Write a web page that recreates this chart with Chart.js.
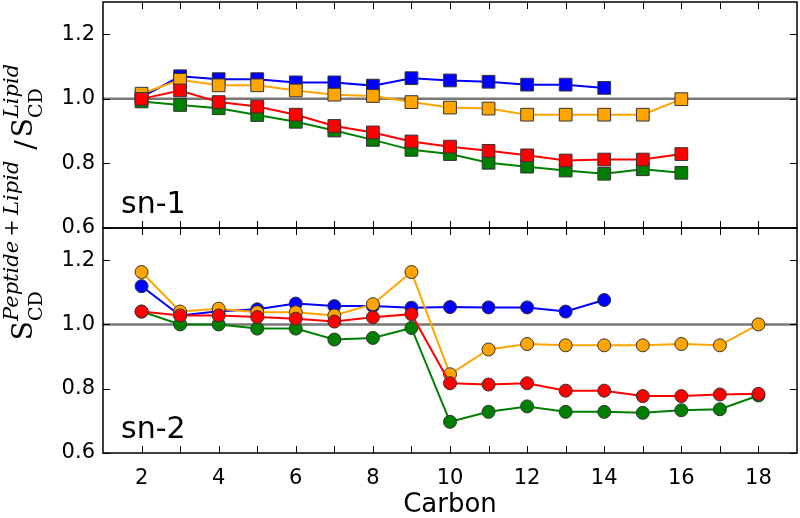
<!DOCTYPE html>
<html>
<head>
<meta charset="utf-8">
<script src="https://cdn.jsdelivr.net/npm/chart.js@4.4.0/dist/chart.umd.min.js"></script>
<style>
  body { margin: 0; background: #fff; }
  #wrap { position: relative; width: 800px; height: 518px; }
  #wrap canvas { position: absolute; left: 0; top: 0; }
</style>
</head>
<body>
<div id="wrap">
  <canvas id="sn1" width="800" height="518"></canvas>
  <canvas id="sn2" width="800" height="518"></canvas>
</div>
<script>
// carbon positions
let carbonSn1 = [2, 3, 4, 5, 6, 7, 8, 9, 10, 11, 12, 13, 14, 15, 16];
let carbonSn2 = [2, 3, 4, 5, 6, 7, 8, 9, 10, 11, 12, 13, 14, 15, 16, 17, 18];

// sn-1 chain (squares)
let blueSn1   = [1.005, 1.07, 1.061, 1.061, 1.051, 1.051, 1.041, 1.064, 1.057, 1.053, 1.044, 1.044, 1.034];
let orangeSn1 = [1.016, 1.059, 1.042, 1.042, 1.026, 1.013, 1.009, 0.99, 0.973, 0.97, 0.951, 0.951, 0.951, 0.951, 0.999];
let redSn1    = [1.0, 1.026, 0.99, 0.976, 0.951, 0.916, 0.896, 0.868, 0.852, 0.839, 0.825, 0.809, 0.812, 0.812, 0.829];
let greenSn1  = [0.992, 0.981, 0.971, 0.95, 0.929, 0.902, 0.873, 0.842, 0.829, 0.802, 0.79, 0.778, 0.768, 0.782, 0.771];

// sn-2 chain (circles)
let blueSn2   = [1.119, 1.028, 1.041, 1.047, 1.065, 1.057, 1.057, 1.052, 1.054, 1.053, 1.053, 1.04, 1.076];
let orangeSn2 = [1.163, 1.04, 1.049, 1.038, 1.038, 1.028, 1.063, 1.163, 0.845, 0.922, 0.939, 0.935, 0.935, 0.935, 0.939, 0.935, 1.0];
let redSn2    = [1.04, 1.028, 1.028, 1.023, 1.018, 1.009, 1.022, 1.032, 0.817, 0.813, 0.817, 0.794, 0.794, 0.777, 0.777, 0.782, 0.784];
let greenSn2  = [1.04, 1.0, 1.0, 0.987, 0.987, 0.953, 0.958, 0.989, 0.697, 0.728, 0.745, 0.728, 0.728, 0.725, 0.733, 0.736, 0.779];

let yTicks = [0.6, 0.8, 1.0, 1.2];
let xTickLabels = [2, 4, 6, 8, 10, 12, 14, 16, 18];
let xTickMarks = [2, 3, 4, 5, 6, 7, 8, 9, 10, 11, 12, 13, 14, 15, 16, 17, 18];

let font = 'DejaVu Sans';

function pts(xs, ys) {
  return ys.map((v, i) => ({x: xs[i], y: v}));
}

function makeSet(xs, ys, color, style, r) {
  return {
    data: pts(xs, ys),
    borderColor: color,
    backgroundColor: color,
    borderWidth: 2,
    pointStyle: style,
    pointRadius: r,
    pointHoverRadius: r,
    pointBorderColor: '#333',
    pointBorderWidth: 1,
    tension: 0
  };
}

// no extra room for half tick labels, the frame is fixed by layout padding
function noLabelPadding(s) {
  s._calculatePadding = function() {
    this.paddingTop = 0; this.paddingBottom = 0;
    this.paddingLeft = 0; this.paddingRight = 0;
  };
}

// frame, inward ticks, reference line at 1.0 and panel label
let panelPlugin = {
  id: 'panel',
  beforeDatasetsDraw(chart, args, opts) {
    let ctx = chart.ctx, a = chart.chartArea;
    let y = chart.scales.y.getPixelForValue(1.0);
    ctx.save();
    ctx.strokeStyle = '#777';
    ctx.lineWidth = 2.5;
    ctx.beginPath();
    ctx.moveTo(a.left, y);
    ctx.lineTo(a.right, y);
    ctx.stroke();
    ctx.restore();
  },
  afterDraw(chart, args, opts) {
    let ctx = chart.ctx, a = chart.chartArea;
    let xs = chart.scales.x, ys = chart.scales.y;
    ctx.save();
    ctx.strokeStyle = '#000';
    ctx.lineWidth = 1;
    ctx.beginPath();
    xTickMarks.forEach(v => {
      let px = Math.round(xs.getPixelForValue(v)) + 0.5;
      ctx.moveTo(px, a.top); ctx.lineTo(px, a.top + 7);
      ctx.moveTo(px, a.bottom); ctx.lineTo(px, a.bottom - 7);
    });
    yTicks.forEach(v => {
      let py = Math.round(ys.getPixelForValue(v)) + 0.5;
      ctx.moveTo(a.left, py); ctx.lineTo(a.left + 7, py);
      ctx.moveTo(a.right, py); ctx.lineTo(a.right - 7, py);
    });
    ctx.stroke();
    ctx.lineWidth = 1.5;
    ctx.strokeRect(a.left, a.top, a.right - a.left, a.bottom - a.top);
    ctx.fillStyle = '#000';
    ctx.font = '30px ' + font;
    ctx.textBaseline = 'alphabetic';
    ctx.fillText(opts.label, a.left + 18, a.bottom - 15);
    if (opts.yTitle) drawYTitle(ctx);
    ctx.restore();
  }
};

// S_CD^{Peptide+Lipid} / S_CD^{Lipid}, rotated
function drawYTitle(ctx) {
  let big = '28px "DejaVu Serif"';
  let small = '19px "DejaVu Serif"';
  let smallIt = 'italic 21px "DejaVu Serif"';
  let parts = [
    {t: 'S', f: big, dy: 0},
    {t: 'Peptide\u2009+\u2009Lipid', f: smallIt, dy: -14, sub: 'CD', gap: 2},
    {t: ' /', f: big, dy: 3, gap: 3},
    {t: 'S', f: big, dy: 0},
    {t: 'Lipid', f: smallIt, dy: -14, sub: 'CD'}
  ];
  let total = 0;
  parts.forEach(p => {
    ctx.font = p.f;
    let w = ctx.measureText(p.t).width;
    if (p.sub) { ctx.font = small; w = Math.max(w, ctx.measureText(p.sub).width); }
    p.w = w + (p.gap || 0);
    total += p.w;
  });
  ctx.save();
  ctx.translate(32, 202);
  ctx.rotate(-Math.PI / 2);
  ctx.fillStyle = '#000';
  ctx.textBaseline = 'alphabetic';
  let u = -total / 2;
  parts.forEach(p => {
    ctx.font = p.f;
    ctx.fillText(p.t, u, p.dy);
    if (p.sub) { ctx.font = small; ctx.fillText(p.sub, u, 10); }
    u += p.w;
  });
  ctx.restore();
}

function yScale() {
  return {
    min: 0.6,
    max: 1.3,
    beforeFit: noLabelPadding,
    afterBuildTicks: s => { s.ticks = yTicks.map(v => ({value: v})); },
    afterFit: s => { s.width = 103; },
    grid: {display: false, drawTicks: false},
    border: {display: false},
    ticks: {
      color: '#000',
      padding: 8,
      font: {family: font, size: 21},
      callback: v => v.toFixed(1)
    }
  };
}

new Chart(document.getElementById('sn1'), {
  type: 'line',
  data: {
    datasets: [
      makeSet(carbonSn1, redSn1, '#ff0000', 'rect', 9),
      makeSet(carbonSn1, greenSn1, '#008000', 'rect', 9),
      makeSet(carbonSn1, orangeSn1, '#ffa500', 'rect', 9),
      makeSet(carbonSn1, blueSn1, '#0000ff', 'rect', 9)
    ]
  },
  options: {
    responsive: false,
    animation: false,
    layout: {autoPadding: false, padding: {left: 0, right: 3, top: 2, bottom: 290}},
    plugins: {legend: {display: false}, tooltip: {enabled: false}, panel: {label: 'sn-1', yTitle: true}},
    scales: {
      x: {type: 'linear', min: 1, max: 19, display: false},
      y: yScale()
    }
  },
  plugins: [panelPlugin]
});

new Chart(document.getElementById('sn2'), {
  type: 'line',
  data: {
    datasets: [
      makeSet(carbonSn2, redSn2, '#ff0000', 'circle', 6.5),
      makeSet(carbonSn2, greenSn2, '#008000', 'circle', 6.5),
      makeSet(carbonSn2, orangeSn2, '#ffa500', 'circle', 6.5),
      makeSet(carbonSn2, blueSn2, '#0000ff', 'circle', 6.5)
    ]
  },
  options: {
    responsive: false,
    animation: false,
    layout: {autoPadding: false, padding: {left: 0, right: 3, top: 228, bottom: 0}},
    plugins: {legend: {display: false}, tooltip: {enabled: false}, panel: {label: 'sn-2'}},
    scales: {
      x: {
        type: 'linear', min: 1, max: 19,
        beforeFit: noLabelPadding,
        afterBuildTicks: s => { s.ticks = xTickLabels.map(v => ({value: v})); },
        afterFit: s => { s.height = 518 - 453; },
        grid: {display: false, drawTicks: false},
        border: {display: false},
        ticks: {color: '#000', padding: 13, maxRotation: 0, autoSkip: false, font: {family: font, size: 21}},
        title: {display: true, text: 'Carbon', color: '#000', font: {family: font, size: 26, lineHeight: 1.0}, padding: {top: 4, bottom: 0}}
      },
      y: yScale()
    }
  },
  plugins: [panelPlugin]
});
</script>
</body>
</html>
